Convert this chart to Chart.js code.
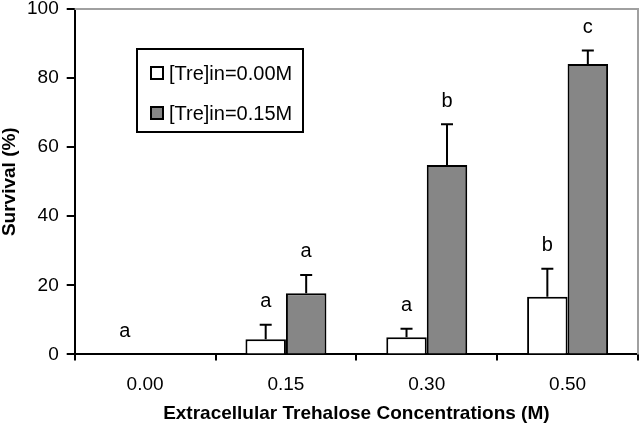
<!DOCTYPE html>
<html>
<head>
<meta charset="utf-8">
<script src="https://cdn.jsdelivr.net/npm/chart.js@4.4.1/dist/chart.umd.min.js"></script>
<style>
  html, body { margin: 0; padding: 0; background: #fff; }
  #wrap { width: 640px; height: 425px; }
</style>
</head>
<body>
<div id="wrap"><canvas id="chart"></canvas></div>
<script>
const categories = ['0.00', '0.15', '0.30', '0.50']
const seriesLabels = ['[Tre]in=0.00M', '[Tre]in=0.15M']
const survivalTre0 = [0, 4.4, 5.0, 16.7]
const survivalTre15 = [0, 17.7, 54.8, 84.1]
const errorTre0 = [0, 4.2, 2.4, 8.1]
const errorTre15 = [0, 5.3, 11.8, 3.9]
const lettersTre0 = ['a', 'a', 'a', 'b']
const lettersTre15 = ['', 'a', 'b', 'c']
const yTicks = [0, 20, 40, 60, 80, 100]

const FONT = "'Liberation Sans', Arial, sans-serif"
const errors = [errorTre0, errorTre15]
const letters = [lettersTre0, lettersTre15]

// error bars, significance letters, frame and legend box
const extras = {
  id: 'extras',
  afterDatasetsDraw(chart) {
    const ctx = chart.ctx
    const y = chart.scales.y
    const area = chart.chartArea

    ctx.save()
    ctx.strokeStyle = '#a0a0a0'
    ctx.lineWidth = 2
    ctx.beginPath()
    ctx.moveTo(area.left, area.top)
    ctx.lineTo(area.right, area.top)
    ctx.lineTo(area.right, area.bottom)
    ctx.stroke()

    chart.data.datasets.forEach((ds, i) => {
      const meta = chart.getDatasetMeta(i)
      meta.data.forEach((bar, j) => {
        const v = ds.data[j]
        const e = errors[i][j]
        let topPx = y.getPixelForValue(v)
        if (e > 0) {
          const ePx = y.getPixelForValue(v + e)
          ctx.strokeStyle = '#000'
          ctx.lineWidth = 2
          ctx.beginPath()
          ctx.moveTo(bar.x, topPx)
          ctx.lineTo(bar.x, ePx)
          ctx.moveTo(bar.x - 6, ePx)
          ctx.lineTo(bar.x + 6, ePx)
          ctx.stroke()
          topPx = ePx
        }
        const t = letters[i][j]
        if (t) {
          ctx.fillStyle = '#000'
          ctx.font = '20px ' + FONT
          ctx.textAlign = 'center'
          ctx.textBaseline = 'middle'
          ctx.fillText(t, bar.x, topPx - 23)
        }
      })
    })

    // legend box
    const lx = 137, ly = 49, lw = 166, lh = 83
    ctx.fillStyle = '#fff'
    ctx.fillRect(lx, ly, lw, lh)
    ctx.strokeStyle = '#000'
    ctx.lineWidth = 2
    ctx.strokeRect(lx, ly, lw, lh)
    chart.data.datasets.forEach((ds, i) => {
      const cy = ly + 24 + i * 40
      ctx.fillStyle = ds.backgroundColor
      ctx.fillRect(151, cy - 6, 12, 12)
      ctx.strokeStyle = '#000'
      ctx.lineWidth = 2
      ctx.strokeRect(151, cy - 6, 12, 12)
      ctx.fillStyle = '#000'
      ctx.font = '20px ' + FONT
      ctx.textAlign = 'left'
      ctx.textBaseline = 'middle'
      ctx.fillText(ds.label, 169, cy + 1)
    })
    ctx.restore()
  }
}

new Chart(document.getElementById('chart'), {
  type: 'bar',
  data: {
    labels: categories,
    datasets: [
      {
        label: seriesLabels[0],
        data: survivalTre0,
        backgroundColor: '#ffffff',
        borderColor: '#000000',
        borderWidth: 2,
        borderSkipped: 'bottom'
      },
      {
        label: seriesLabels[1],
        data: survivalTre15,
        backgroundColor: '#868686',
        borderColor: '#000000',
        borderWidth: 2,
        borderSkipped: 'bottom'
      }
    ]
  },
  options: {
    responsive: true,
    maintainAspectRatio: false,
    animation: false,
    categoryPercentage: 0.575,
    barPercentage: 1.0,
    layout: { padding: { top: 9, right: 2, left: 0, bottom: 0 } },
    plugins: {
      legend: { display: false },
      tooltip: { enabled: false }
    },
    scales: {
      x: {
        offset: true,
        grid: {
          offset: true,
          drawOnChartArea: false,
          drawTicks: true,
          tickLength: 6,
          color: '#000',
          lineWidth: 2
        },
        border: { display: true, color: '#000', width: 2 },
        ticks: {
          color: '#000',
          padding: 13,
          font: { family: FONT, size: 19 }
        },
        title: {
          display: true,
          text: 'Extracellular Trehalose Concentrations (M)',
          color: '#000',
          padding: { top: -7, bottom: 0 },
          font: { family: FONT, size: 19, weight: 'bold' }
        }
      },
      y: {
        min: 0,
        max: 100,
        afterBuildTicks: (axis) => { axis.ticks = yTicks.map(v => ({ value: v })) },
        afterFit: (axis) => { axis.paddingTop = 0 },
        grid: {
          drawOnChartArea: false,
          drawTicks: true,
          tickLength: 8,
          color: '#000',
          lineWidth: 2
        },
        border: { display: true, color: '#000', width: 2 },
        ticks: {
          color: '#000',
          padding: 8,
          font: { family: FONT, size: 19, lineHeight: 1 }
        },
        title: {
          display: true,
          text: 'Survival (%)',
          color: '#000',
          padding: { top: 0, bottom: 0 },
          font: { family: FONT, size: 19, weight: 'bold', lineHeight: 1 }
        }
      }
    }
  },
  plugins: [extras]
})
</script>
</body>
</html>
